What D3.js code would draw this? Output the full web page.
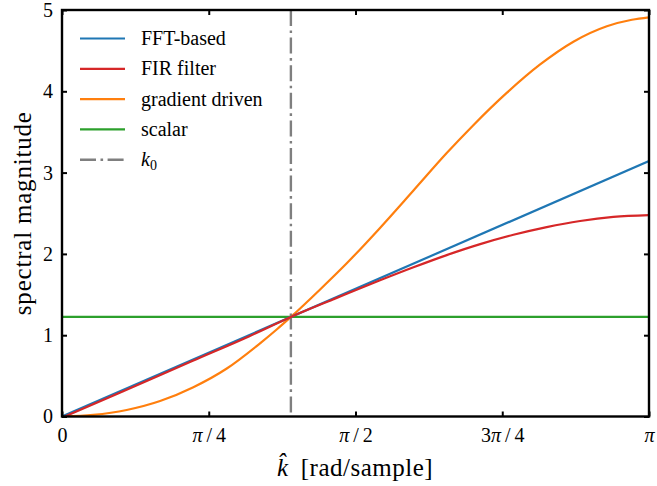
<!DOCTYPE html>
<html>
<head>
<meta charset="utf-8">
<script src="https://cdn.jsdelivr.net/npm/d3@7"></script>
<style>
  html, body { margin: 0; padding: 0; background: #fff; }
  svg { display: block; }
  text { font-family: "Liberation Serif", "DejaVu Serif", serif; fill: #000; }
</style>
</head>
<body>
<svg id="chart" width="657" height="486"></svg>
<script>
// ---- data ----
const k0 = 1.225;
const seriesNames = ["FFT-based", "FIR filter", "gradient driven", "scalar"];
const seriesColors = ["#1f77b4", "#d62728", "#ff7f0e", "#2ca02c"];

const fftK = [0, Math.PI];
const fftV = [0, Math.PI];

const firK = [0.015, 0.30, 0.70, 1.00, 1.225, 1.45, 1.524, 1.702, 1.881, 2.059, 2.238, 2.416, 2.594, 2.773, 2.951, Math.PI];
const firV = [0.0, 0.283, 0.685, 0.985, 1.225, 1.44, 1.51, 1.675, 1.835, 1.985, 2.12, 2.235, 2.33, 2.405, 2.455, 2.477];

const gradK = [0, 0.168, 0.346, 0.525, 0.703, 0.882, 1.06, 1.149, 1.225, 1.38, 1.524, 1.702, 1.881, 2.059, 2.2, 2.38, 2.559, 2.737, 2.916, 3.05, Math.PI];
const gradV = [0, 0.02, 0.08, 0.19, 0.36, 0.59, 0.90, 1.07, 1.225, 1.56, 1.885, 2.32, 2.78, 3.24, 3.58, 3.98, 4.33, 4.61, 4.80, 4.88, 4.91];

const scalarK = [0, Math.PI];
const scalarV = [k0, k0];

const xTickValues = [0, Math.PI / 4, Math.PI / 2, 3 * Math.PI / 4, Math.PI];
const xTickLabels = ["0", "π/4", "π/2", "3π/4", "π"];
const yTickValues = [0, 1, 2, 3, 4, 5];
const yTickLabels = ["0", "1", "2", "3", "4", "5"];

// ---- layout ----
const svg = d3.select("#chart");
const L = 62, R = 649, T = 10, B = 416.5;
const x = d3.scaleLinear().domain([0, Math.PI]).range([L, R]);
const y = d3.scaleLinear().domain([0, 5]).range([B, T]);

const plot = svg.append("g");
plot.append("clipPath").attr("id", "clip")
  .append("rect").attr("x", L).attr("y", T).attr("width", R - L).attr("height", B - T);

const lineGen = d3.line().x(d => x(d[0])).y(d => y(d[1]));
const smoothGen = d3.line().x(d => x(d[0])).y(d => y(d[1])).curve(d3.curveMonotoneX);

const zip = (a, b) => a.map((v, i) => [v, b[i]]);
const lines = plot.append("g").attr("clip-path", "url(#clip)");

// k0 vertical line
lines.append("line")
  .attr("x1", x(k0)).attr("x2", x(k0)).attr("y1", y(5)).attr("y2", y(0))
  .attr("stroke", "#7f7f7f").attr("stroke-width", 2.4)
  .attr("stroke-dasharray", "16,4.5,2.6,4.5");

const seriesData = [
  { pts: zip(fftK, fftV), gen: lineGen },
  { pts: zip(firK, firV), gen: smoothGen },
  { pts: zip(gradK, gradV), gen: smoothGen },
  { pts: zip(scalarK, scalarV), gen: lineGen }
];
[3, 2, 0, 1].forEach(i => {
  lines.append("path")
    .attr("d", seriesData[i].gen(seriesData[i].pts))
    .attr("fill", "none")
    .attr("stroke", seriesColors[i])
    .attr("stroke-width", 2.2)
    .attr("stroke-linejoin", "round");
});

// ---- axes ----
const tickLen = 5;
const xAxis = d3.axisBottom(x).tickValues(xTickValues)
  .tickFormat((d, i) => xTickLabels[i]).tickSizeInner(-tickLen).tickSizeOuter(0).tickPadding(11);
const gx = svg.append("g").attr("transform", `translate(0,${B})`).call(xAxis);
const xTop = d3.axisTop(x).tickValues(xTickValues).tickFormat("").tickSizeInner(-tickLen).tickSizeOuter(0);
const gxt = svg.append("g").attr("transform", `translate(0,${T})`).call(xTop);
const yAxis = d3.axisLeft(y).tickValues(yTickValues)
  .tickFormat((d, i) => yTickLabels[i]).tickSizeInner(-tickLen).tickSizeOuter(0).tickPadding(9);
const gy = svg.append("g").attr("transform", `translate(${L},0)`).call(yAxis);
const yRight = d3.axisRight(y).tickValues(yTickValues).tickFormat("").tickSizeInner(-tickLen).tickSizeOuter(0);
const gyr = svg.append("g").attr("transform", `translate(${R},0)`).call(yRight);

[gx, gxt, gy, gyr].forEach(g => {
  g.select(".domain").remove();
  g.selectAll(".tick line").attr("stroke", "#000").attr("stroke-width", 2);
  g.selectAll(".tick text").attr("font-family", "Liberation Serif").attr("font-size", 20).attr("fill", "#000");
});

// italic π and spaced slash in x tick labels
gx.selectAll(".tick text").each(function (d, i) {
  const lbl = xTickLabels[i];
  const t = d3.select(this).text(null);
  lbl.split(/(π|\/)/).filter(s => s.length).forEach(part => {
    const ts = t.append("tspan");
    if (part === "π") ts.attr("font-style", "italic").text("π");
    else if (part === "/") ts.text("\u2009/\u2009");
    else ts.text(part);
  });
});

// frame
svg.append("rect").attr("x", L).attr("y", T).attr("width", R - L).attr("height", B - T)
  .attr("fill", "none").attr("stroke", "#000").attr("stroke-width", 2.4);

// axis labels
svg.append("text")
  .attr("transform", `translate(31,${(T + B) / 2}) rotate(-90)`)
  .attr("text-anchor", "middle").attr("font-size", 25).attr("letter-spacing", 0.8)
  .text("spectral magnitude");

const xl = svg.append("text")
  .attr("x", 355).attr("y", 476)
  .attr("text-anchor", "middle").attr("font-size", 25).attr("letter-spacing", 0.5);
xl.append("tspan").attr("font-style", "italic").text("k\u0302");
xl.append("tspan").text("\u00a0\u2009[rad/sample]");

// ---- legend ----
const legendLabels = ["FFT-based", "FIR filter", "gradient driven", "scalar"];
const leg = svg.append("g");
const legY0 = 38.5, legDy = 30.3;
legendLabels.forEach((lab, i) => {
  const yy = legY0 + i * legDy;
  leg.append("line").attr("x1", 80).attr("x2", 125).attr("y1", yy).attr("y2", yy)
    .attr("stroke", seriesColors[i]).attr("stroke-width", 2.2);
  leg.append("text").attr("x", 141).attr("y", yy + 6.5).attr("font-size", 20).text(lab);
});
{
  const yy = legY0 + 4 * legDy;
  leg.append("line").attr("x1", 80).attr("x2", 125).attr("y1", yy).attr("y2", yy)
    .attr("stroke", "#7f7f7f").attr("stroke-width", 2.4)
    .attr("stroke-dasharray", "16,4.5,2.6,4.5");
  const t = leg.append("text").attr("x", 141).attr("y", yy + 6.5).attr("font-size", 20);
  t.append("tspan").attr("font-style", "italic").text("k");
  t.append("tspan").attr("font-size", 14).attr("dy", 4).text("0");
}
</script>
</body>
</html>
